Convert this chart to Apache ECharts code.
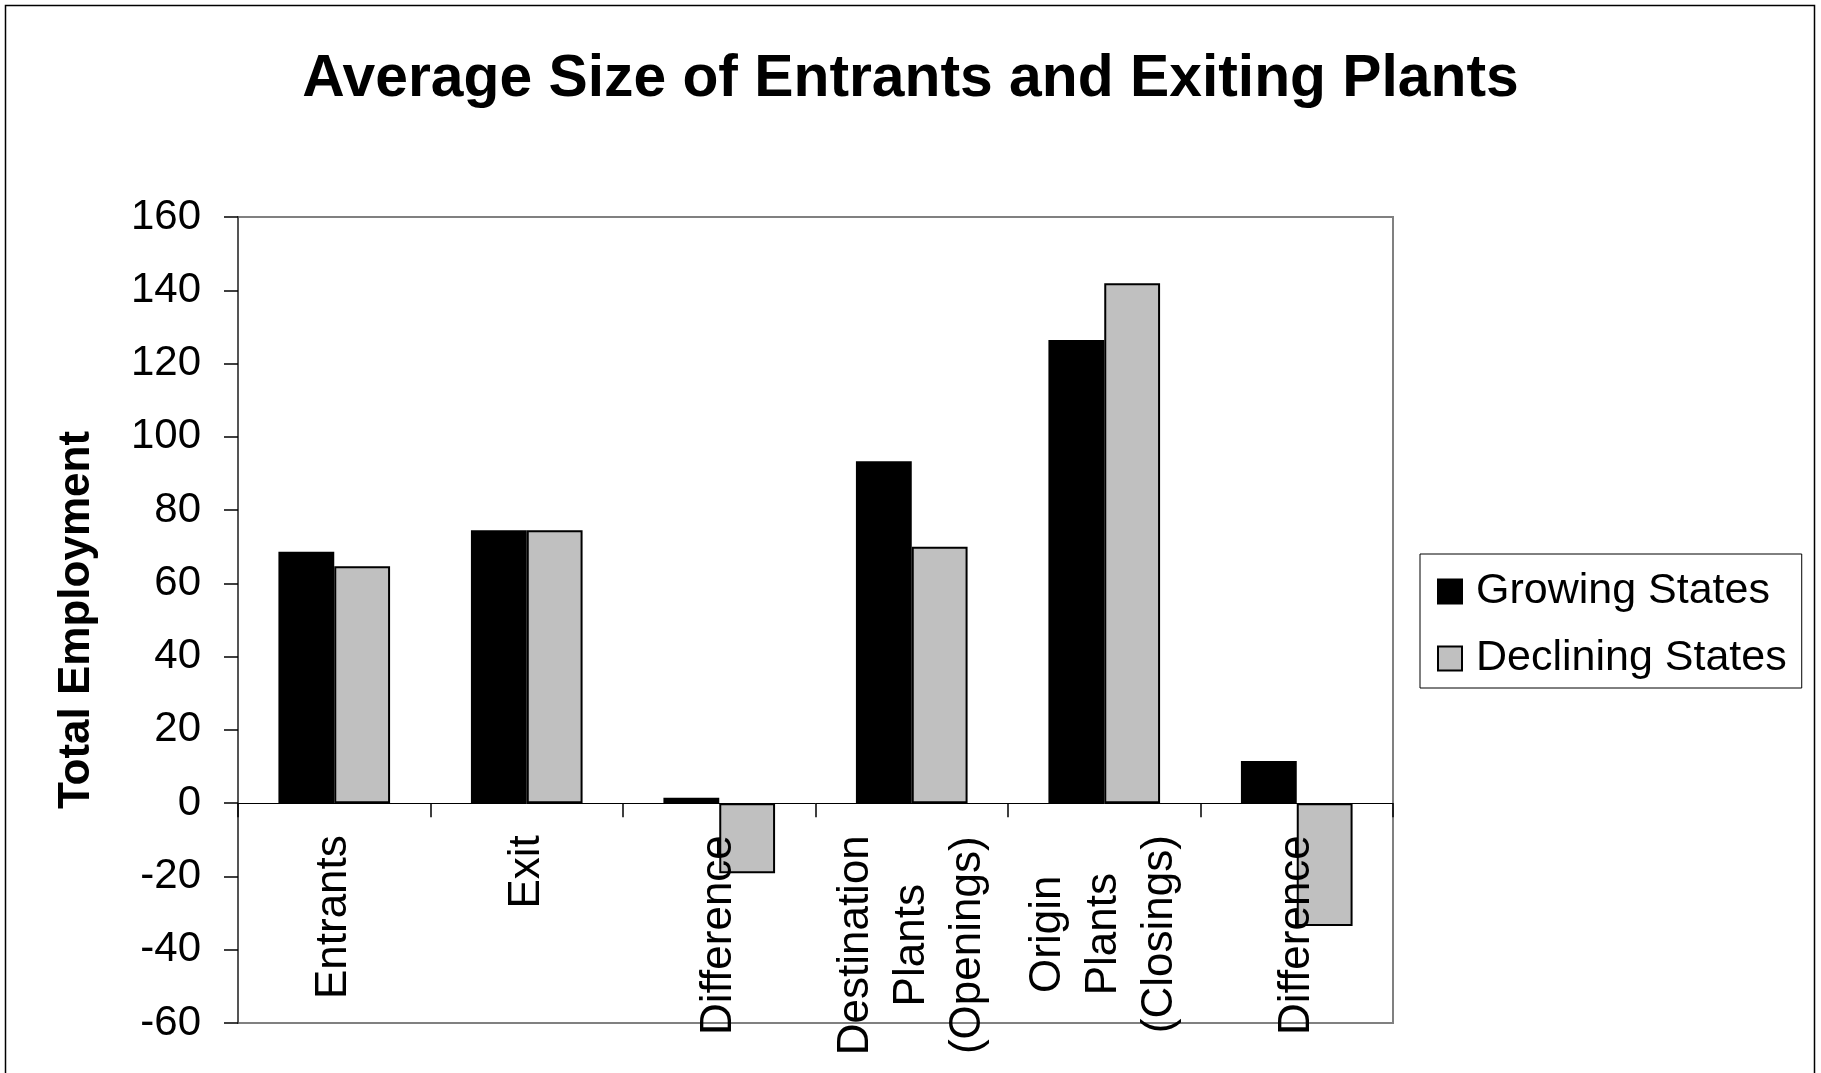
<!DOCTYPE html>
<html>
<head>
    <meta charset="utf-8">
    <title>Average Size of Entrants and Exiting Plants</title>
    <script src="https://cdn.jsdelivr.net/npm/echarts/dist/echarts.min.js"></script>
</head>
<body style="margin:0;background:#fff;">
<div id="chartMain" style="width:1821px;height:1073px;"></div>
<script>
    // 数据
    var categories = ['Entrants', 'Exit', 'Difference', 'Destination\nPlants\n(Openings)', 'Origin\nPlants\n(Closings)', 'Difference'];
    var growingStates = [68.6, 74.5, 1.5, 93.3, 126.4, 11.5];
    var decliningStates = [64.7, 74.5, -19.1, 70.0, 141.9, -33.5];
    var seriesNames = ['Growing States', 'Declining States'];

    var fontName = '"Liberation Sans", Arial, sans-serif';

    // plot box, y range
    var gridTop = 217, gridBottom = 50, chartH = 1073;
    var yMin = -60, yMax = 160;
    // distance from plot bottom up to the zero line (labels hang from the zero line)
    var plotH = chartH - gridTop - gridBottom;
    var zeroOffset = plotH * (0 - yMin) / (yMax - yMin);

    var chartMain = echarts.init(document.getElementById('chartMain'));
    var option = {
        backgroundColor: '#fff',
        textStyle: {fontFamily: fontName, color: '#000'},
        title: {
            text: 'Average Size of Entrants and Exiting Plants',
            left: 'center',
            top: 45,
            textStyle: {fontFamily: fontName, fontSize: 58.8, fontWeight: 'bold', color: '#000'}
        },
        graphic: [
            {
                type: 'rect',
                shape: {x: 5.5, y: 5.5, width: 1809, height: 1100},
                style: {fill: 'none', stroke: '#000', lineWidth: 1.5},
                silent: true
            }
        ],
        legend: {
            orient: 'vertical',
            left: 1420,
            top: 554,
            padding: [16, 15, 8, 17],
            itemGap: 24,
            itemWidth: 24,
            itemHeight: 24,
            backgroundColor: '#fff',
            borderColor: '#000',
            borderWidth: 1,
            icon: 'rect',
            textStyle: {fontFamily: fontName, fontSize: 43, color: '#000', padding: [0, 0, 0, 9]},
            data: seriesNames
        },
        grid: {
            left: 238,
            right: 428,
            top: gridTop,
            bottom: gridBottom,
            containLabel: false,
            outerBoundsMode: 'none',
            show: true,
            borderColor: '#808080',
            borderWidth: 2,
            backgroundColor: '#fff'
        },
        xAxis: [
            {
                // axis line + ticks sitting on zero
                type: 'category',
                data: categories,
                z: 10,
                axisLine: {onZero: true, lineStyle: {color: '#000', width: 1}},
                axisTick: {show: true, alignWithLabel: false, length: 14, lineStyle: {color: '#000', width: 1.5}},
                axisLabel: {show: false}
            },
            {
                // category labels, moved up to hang below the zero line
                type: 'category',
                data: categories,
                position: 'bottom',
                offset: -zeroOffset,
                z: 10,
                axisLine: {show: false, onZero: false},
                axisTick: {show: false},
                axisLabel: {
                    interval: 0,
                    rotate: 90,
                    margin: 32,
                    color: '#000',
                    fontFamily: fontName,
                    fontSize: 44,
                    formatter: function (value) {
                        // center every line of the rotated label block
                        return value.split('\n').map(function (s) { return '{c|' + s + '}'; }).join('\n');
                    },
                    rich: {
                        c: {align: 'center', fontFamily: fontName, fontSize: 44, lineHeight: 56, color: '#000'}
                    }
                }
            }
        ],
        yAxis: {
            type: 'value',
            min: yMin,
            max: yMax,
            interval: 20,
            name: 'Total Employment',
            nameLocation: 'middle',
            nameGap: 139,
            nameMoveOverlap: false,
            nameTextStyle: {fontFamily: fontName, fontSize: 44, fontWeight: 'bold', color: '#000'},
            axisLine: {show: true, lineStyle: {color: '#555', width: 2}},
            axisTick: {show: true, length: 14, lineStyle: {color: '#000', width: 1.5}},
            axisLabel: {margin: 37, color: '#000', fontFamily: fontName, fontSize: 42},
            splitLine: {show: false}
        },
        series: [
            {
                name: seriesNames[0],
                type: 'bar',
                data: growingStates,
                barGap: '0%',
                barCategoryGap: '42%',
                itemStyle: {color: '#000000', borderColor: '#000', borderWidth: 2}
            },
            {
                name: seriesNames[1],
                type: 'bar',
                data: decliningStates,
                barGap: '0%',
                barCategoryGap: '42%',
                itemStyle: {color: '#c0c0c0', borderColor: '#000', borderWidth: 2}
            }
        ]
    };
    chartMain.setOption(option);
</script>
</body>
</html>
